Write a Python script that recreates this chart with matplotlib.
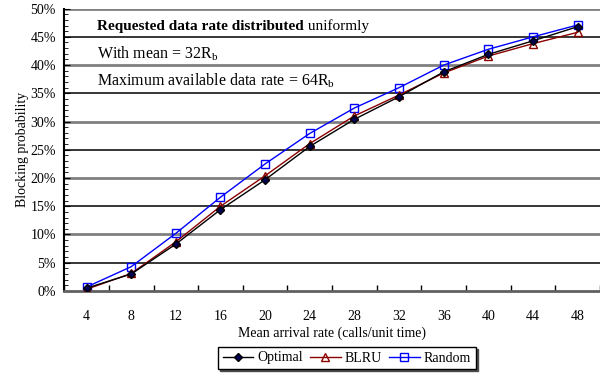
import numpy as np
import matplotlib
matplotlib.use("Agg")
import matplotlib.pyplot as plt
from matplotlib.ticker import PercentFormatter, MultipleLocator

plt.rcParams["font.family"] = ["Liberation Serif", "DejaVu Serif"]
plt.rcParams["mathtext.fontset"] = "custom"
plt.rcParams["mathtext.rm"] = "Liberation Serif"
plt.rcParams["mathtext.it"] = "Liberation Serif:italic"

# data (blocking probability in %)
rates = ["4", "8", "12", "16", "20", "24", "28", "32", "36", "40", "44", "48"]
optimal = [0.5, 3.0, 8.3, 14.4, 19.7, 25.6, 30.4, 34.4, 38.8, 41.9, 44.3, 46.8]
blru = [0.3, 3.1, 8.7, 15.0, 20.4, 26.1, 31.0, 34.7, 38.6, 41.6, 43.8, 45.8]
random_ = [0.7, 4.3, 10.2, 16.6, 22.5, 27.9, 32.4, 36.0, 40.0, 42.8, 45.0, 47.1]

fig = plt.figure(figsize=(6, 3.74), dpi=100)
ax = fig.add_axes([0.107, 0.222, 0.893, 0.755])

# horizontal gridlines: gray at 10% steps, black at odd 5% steps
for v in range(10, 51, 10):
    ax.axhline(v, color="#808080", lw=2, zorder=1)
for v in range(5, 50, 10):
    ax.axhline(v, color="black", lw=1.1, zorder=1)

ax.plot(rates, optimal, color="black", lw=1, marker="D", ms=4,
        mfc="#000050", mec="black", label="Optimal", zorder=4)
ax.plot(rates, blru, color="#8B0000", lw=1, marker="^", ms=6,
        mfc="none", mec="#8B0000", label="BLRU", zorder=3)
ax.plot(rates, random_, color="blue", lw=1, marker="s", ms=6,
        mfc="none", mec="blue", label="Random", zorder=2)

ax.set_xlim(-0.5, len(rates) - 0.5)
ax.set_ylim(0, 50)
ax.yaxis.set_major_locator(MultipleLocator(5))
ax.yaxis.set_minor_locator(MultipleLocator(1))
ax.yaxis.set_major_formatter(PercentFormatter(decimals=0))
ax.set_xticks(np.arange(-0.5, len(rates), 1), minor=True)

ax.tick_params(axis="x", which="major", length=0, pad=14, labelsize=10)
ax.tick_params(axis="x", which="minor", direction="in", length=4, width=1)
ax.tick_params(axis="y", which="major", direction="in", length=4, labelsize=10, pad=6)
ax.tick_params(axis="y", which="minor", direction="in", length=3)

for s in ["top", "right"]:
    ax.spines[s].set_visible(False)
ax.spines["left"].set_color("black")
ax.spines["left"].set_linewidth(1.5)
ax.spines["bottom"].set_color("#606060")
ax.spines["bottom"].set_linewidth(2)

ax.set_xlabel("Mean arrival rate (calls/unit time)", fontsize=10, labelpad=2)
ax.set_ylabel("Blocking probability", fontsize=10, labelpad=1)

t1 = ax.text(0.062, 0.935, "Requested data rate distributed", transform=ax.transAxes,
             fontsize=11, fontweight="bold", va="center", ha="left")
ax.annotate(" uniformly", xy=(1, 0), xycoords=t1, va="bottom", ha="left", fontsize=11)
ax.text(0.062, 0.84, r"With mean = 32R$_\mathrm{b}$", transform=ax.transAxes,
        fontsize=11.5, va="center", ha="left")
ax.text(0.062, 0.745, r"Maximum available data rate = 64R$_\mathrm{b}$", transform=ax.transAxes,
        fontsize=11.5, va="center", ha="left")

fig.legend(loc="center", bbox_to_anchor=(347 / 600, 1 - 358 / 374), ncol=3,
           fontsize=10, frameon=True, fancybox=False, numpoints=1,
           edgecolor="black", handlelength=2.2, handletextpad=0.3,
           columnspacing=0.5, borderpad=0.35,
           shadow={"ox": 1.5, "oy": -1.5, "color": "0.3", "alpha": 1})

fig.savefig("out.png", dpi=100)
